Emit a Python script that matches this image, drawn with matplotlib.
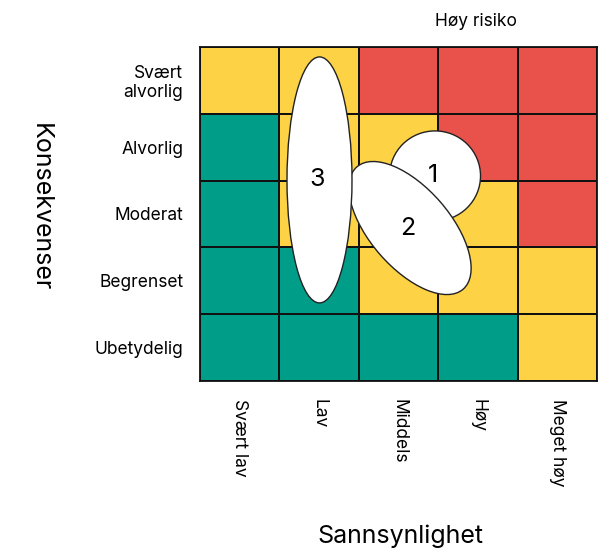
import numpy as np
import matplotlib.pyplot as plt
from matplotlib.colors import ListedColormap
from matplotlib.patches import Ellipse

plt.rcParams['font.family'] = ['Inter', 'DejaVu Sans']

# risk matrix: 0 = green, 1 = yellow, 2 = red (rows from bottom: Ubetydelig .. Svært alvorlig)
risk = np.array([
    [0, 0, 0, 0, 1],
    [0, 0, 1, 1, 1],
    [0, 1, 1, 1, 2],
    [0, 1, 1, 2, 2],
    [1, 1, 2, 2, 2],
])
consequence = ['Ubetydelig', 'Begrenset', 'Moderat', 'Alvorlig', 'Svært\nalvorlig']
probability = ['Svært lav', 'Lav', 'Middels', 'Høy', 'Meget høy']

# placed risks: label, centre (probability, consequence) in cell units, width, height (px), angle
risk_labels = ['1', '2', '3']
risk_x = [2.96, 2.645, 1.505]
risk_y = [3.07, 2.29, 3.01]
risk_w = [91, 162, 65]
risk_h = [90, 80, 246]
risk_angle = [0, -49, 0]

cmap = ListedColormap(['#009e88', '#fdd245', '#e8524a'])

fig = plt.figure(figsize=(6.14, 5.5), dpi=100)
pos = [200 / 614, 169 / 550, 397 / 614, 334 / 550]
ax = fig.add_axes(pos)
ax.pcolormesh(np.arange(6), np.arange(6), risk, cmap=cmap, vmin=0, vmax=2,
              edgecolors='#111111', linewidth=1.3)
ax.set_xlim(0, 5)
ax.set_ylim(0, 5)
for s in ax.spines.values():
    s.set_linewidth(1.3)
    s.set_color('#111111')
ax.tick_params(length=0)
ax.set_yticks(np.arange(5) + 0.5)
ax.set_yticklabels(consequence, fontsize=12.5, linespacing=1.15)
ax.tick_params(axis='y', pad=12)
ax.set_xticks(np.arange(5) + 0.5)
ax.set_xticklabels(probability, fontsize=12.5, rotation=-90, va='top')
ax.tick_params(axis='x', pad=13)

# overlay axes in pixel-like units so the rotated ellipse is not sheared
ov = fig.add_axes(pos)
ov.set_xlim(0, 397)
ov.set_ylim(0, 334)
ov.axis('off')
cw, ch = 397 / 5, 334 / 5
for lab, x, y, w, h, a in zip(risk_labels, risk_x, risk_y, risk_w, risk_h, risk_angle):
    ov.add_patch(Ellipse((x * cw, y * ch), w, h, angle=a, facecolor='white',
                         edgecolor='#222222', linewidth=1.0))
    ov.text(x * cw - 2, y * ch, lab, fontsize=18, ha='center', va='center')

fig.text(476 / 614, 1 - 22 / 550, 'Høy risiko', fontsize=12.5, ha='center', va='center')
fig.text(40 / 614, 1 - 207 / 550, 'Konsekvenser', fontsize=18, rotation=-90,
         ha='center', va='center')
fig.text(400 / 614, 1 - 536 / 550, 'Sannsynlighet', fontsize=18, ha='center', va='center')

plt.savefig('out.png', dpi=100)
